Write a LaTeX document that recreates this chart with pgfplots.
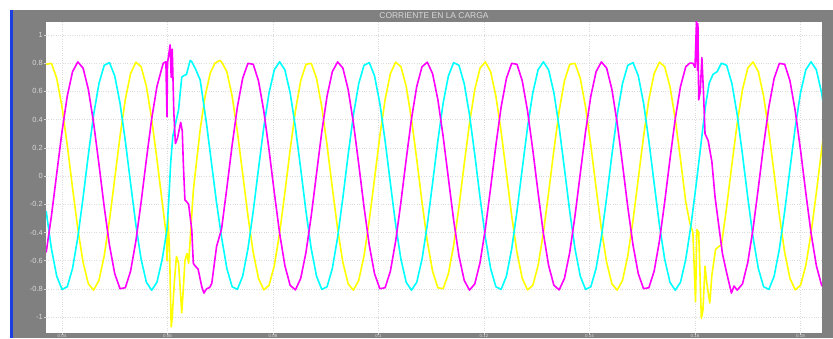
\documentclass[border=0pt]{standalone}
\usepackage{fontspec}
\setmainfont{Liberation Sans}
\usepackage{pgfplots}
\pgfplotsset{compat=1.18}
\definecolor{framegray}{HTML}{808080}
\definecolor{labgray}{HTML}{D8D8D8}
\definecolor{stripblue}{HTML}{1A3FE0}
\definecolor{cyel}{HTML}{FFFF00}
\definecolor{cmag}{HTML}{FF00FF}
\definecolor{ccya}{HTML}{00FFFF}
\begin{document}
\begin{tikzpicture}[x=1bp,y=1bp]
\clip (0,0) rectangle (833,338);
\fill[white] (0,0) rectangle (833,338);
\fill[framegray] (13,0) rectangle (833,328);
\fill[stripblue] (10,0) rectangle (13,328);
\node[text=labgray, font=\fontsize{8.5}{9}\selectfont] at (434,322) {CORRIENTE EN LA CARGA};
\begin{axis}[
  at={(46bp,5bp)}, anchor=south west,
  width=776bp, height=311bp, scale only axis,
  xmin=0.036967, xmax=0.184076, ymin=-1.113, ymax=1.092,
  axis background/.style={fill=white},
  axis line style={draw=none},
  /pgf/number format/assume math mode=true,
  xtick={0.04,0.06,0.08,0.1,0.12,0.14,0.16,0.18},
  xticklabels={0.04,0.06,0.08,0.1,0.12,0.14,0.16,0.18},
  ytick={-1,-0.8,-0.6,-0.4,-0.2,0,0.2,0.4,0.6,0.8,1},
  yticklabels={-1,-0.8,-0.6,-0.4,-0.2,0,0.2,0.4,0.6,0.8,1},
  tick label style={text=labgray, font=\fontsize{7.5}{8}\selectfont},
  yticklabel style={inner sep=1bp},
  xticklabel style={font=\fontsize{4.5}{5}\selectfont, inner sep=0pt, yshift=1.2bp},
  tick align=outside, major tick length=2bp,
  tick style={labgray, line width=0.5bp},
  xtick pos=bottom, ytick pos=left,
  grid=major,
  major grid style={dotted, color=gray!28, line width=0.5bp},
  every axis plot/.append style={line width=1.6bp, line join=round},
]
\addplot[cyel] table {
0.037 0.792
0.038 0.799
0.039 0.693
0.040 0.490
0.041 0.218
0.042 -0.085
0.043 -0.375
0.044 -0.613
0.045 -0.765
0.046 -0.809
0.047 -0.740
0.048 -0.567
0.049 -0.314
0.050 -0.017
0.051 0.282
0.052 0.542
0.053 0.726
0.054 0.807
0.055 0.775
0.056 0.635
0.057 0.405
0.058 0.118
0.059 -0.185
0.0598 -0.43
0.0599 -0.60
0.0601 -0.29
0.0604 -0.55
0.0607 -1.07
0.0609 -1.00
0.0613 -0.75
0.0617 -0.57
0.0621 -0.62
0.0625 -0.85
0.0627 -0.97
0.0630 -0.80
0.0633 -0.60
0.0637 -0.55
0.0640 -0.62
0.0643 -0.45
0.0649 -0.10
0.0655 0.10
0.0662 0.33
0.0671 0.56
0.0681 0.73
0.0690 0.80
0.0699 0.82
0.07025 0.809
0.07125 0.740
0.07225 0.567
0.07325 0.314
0.07425 0.017
0.07525 -0.282
0.07625 -0.542
0.07725 -0.726
0.07825 -0.807
0.07925 -0.775
0.08025 -0.635
0.08125 -0.405
0.08225 -0.118
0.08325 0.185
0.08425 0.462
0.08525 0.675
0.08625 0.792
0.08725 0.799
0.08825 0.693
0.08925 0.490
0.09025 0.218
0.09125 -0.085
0.09225 -0.375
0.09325 -0.613
0.09425 -0.765
0.09525 -0.809
0.09625 -0.740
0.09725 -0.567
0.09825 -0.314
0.09925 -0.017
0.10025 0.282
0.10125 0.542
0.10225 0.726
0.10325 0.807
0.10425 0.775
0.10525 0.635
0.10625 0.405
0.10725 0.118
0.10825 -0.185
0.10925 -0.462
0.11025 -0.675
0.11125 -0.792
0.11225 -0.799
0.11325 -0.693
0.11425 -0.490
0.11525 -0.218
0.11625 0.085
0.11725 0.375
0.11825 0.613
0.11925 0.765
0.12025 0.809
0.12125 0.740
0.12225 0.567
0.12325 0.314
0.12425 0.017
0.12525 -0.282
0.12625 -0.542
0.12725 -0.726
0.12825 -0.807
0.12925 -0.775
0.13025 -0.635
0.13125 -0.405
0.13225 -0.118
0.13325 0.185
0.13425 0.462
0.13525 0.675
0.13625 0.792
0.13725 0.799
0.13825 0.693
0.13925 0.490
0.14025 0.218
0.14125 -0.085
0.14225 -0.375
0.14325 -0.613
0.14425 -0.765
0.14525 -0.809
0.14625 -0.740
0.14725 -0.567
0.14825 -0.314
0.14925 -0.017
0.15025 0.282
0.15125 0.542
0.15225 0.726
0.15325 0.807
0.15425 0.775
0.15525 0.635
0.15625 0.405
0.15725 0.118
0.15825 -0.185
0.1590 -0.33
0.1596 -0.40
0.1601 -0.89
0.16035 -0.38
0.1607 -0.40
0.1612 -1.01
0.1615 -0.95
0.1619 -0.64
0.1622 -0.75
0.1628 -0.90
0.1632 -0.70
0.1639 -0.52
0.1645 -0.50
0.165 -0.490
0.166 -0.218
0.167 0.085
0.168 0.375
0.169 0.613
0.170 0.765
0.171 0.809
0.172 0.740
0.173 0.567
0.174 0.314
0.175 0.017
0.176 -0.282
0.177 -0.542
0.178 -0.726
0.179 -0.807
0.180 -0.775
0.181 -0.635
0.182 -0.405
0.183 -0.118
0.184 0.185
0.185 0.462
};
\addplot[ccya] table {
0.037 -0.250
0.038 -0.516
0.039 -0.710
0.040 -0.804
0.041 -0.785
0.042 -0.655
0.043 -0.434
0.044 -0.152
0.045 0.152
0.046 0.434
0.047 0.655
0.048 0.785
0.049 0.804
0.050 0.710
0.051 0.516
0.052 0.250
0.053 -0.051
0.054 -0.345
0.055 -0.590
0.056 -0.753
0.057 -0.810
0.058 -0.753
0.059 -0.590
0.0599 -0.38
0.0602 -0.20
0.0606 0.09
0.0610 0.28
0.0614 0.35
0.0621 0.47
0.0627 0.70
0.0630 0.71
0.0636 0.72
0.0643 0.82
0.0646 0.81
0.0653 0.76
0.0662 0.68
0.0674 0.37
0.0693 -0.19
0.07025 -0.434
0.07125 -0.655
0.07225 -0.785
0.07325 -0.804
0.07425 -0.710
0.07525 -0.516
0.07625 -0.250
0.07725 0.051
0.07825 0.345
0.07925 0.590
0.08025 0.753
0.08125 0.810
0.08225 0.753
0.08325 0.590
0.08425 0.345
0.08525 0.051
0.08625 -0.250
0.08725 -0.516
0.08825 -0.710
0.08925 -0.804
0.09025 -0.785
0.09125 -0.655
0.09225 -0.434
0.09325 -0.152
0.09425 0.152
0.09525 0.434
0.09625 0.655
0.09725 0.785
0.09825 0.804
0.09925 0.710
0.10025 0.516
0.10125 0.250
0.10225 -0.051
0.10325 -0.345
0.10425 -0.590
0.10525 -0.753
0.10625 -0.810
0.10725 -0.753
0.10825 -0.590
0.10925 -0.345
0.11025 -0.051
0.11125 0.250
0.11225 0.516
0.11325 0.710
0.11425 0.804
0.11525 0.785
0.11625 0.655
0.11725 0.434
0.11825 0.152
0.11925 -0.152
0.12025 -0.434
0.12125 -0.655
0.12225 -0.785
0.12325 -0.804
0.12425 -0.710
0.12525 -0.516
0.12625 -0.250
0.12725 0.051
0.12825 0.345
0.12925 0.590
0.13025 0.753
0.13125 0.810
0.13225 0.753
0.13325 0.590
0.13425 0.345
0.13525 0.051
0.13625 -0.250
0.13725 -0.516
0.13825 -0.710
0.13925 -0.804
0.14025 -0.785
0.14125 -0.655
0.14225 -0.434
0.14325 -0.152
0.14425 0.152
0.14525 0.434
0.14625 0.655
0.14725 0.785
0.14825 0.804
0.14925 0.710
0.15025 0.516
0.15125 0.250
0.15225 -0.051
0.15325 -0.345
0.15425 -0.590
0.15525 -0.753
0.15625 -0.810
0.15725 -0.753
0.15825 -0.590
0.15925 -0.345
0.16025 -0.051
0.1612 0.25
0.1620 0.50
0.1627 0.66
0.1634 0.72
0.1642 0.74
0.1650 0.80
0.166 0.785
0.167 0.655
0.168 0.434
0.169 0.152
0.170 -0.152
0.171 -0.434
0.172 -0.655
0.173 -0.785
0.174 -0.804
0.175 -0.710
0.176 -0.516
0.177 -0.250
0.178 0.051
0.179 0.345
0.180 0.590
0.181 0.753
0.182 0.810
0.183 0.753
0.184 0.590
0.185 0.345
};
\addplot[cmag] table {
0.037 -0.542
0.038 -0.282
0.039 0.017
0.040 0.314
0.041 0.567
0.042 0.740
0.043 0.809
0.044 0.765
0.045 0.613
0.046 0.375
0.047 0.085
0.048 -0.218
0.049 -0.490
0.050 -0.693
0.051 -0.799
0.052 -0.792
0.053 -0.675
0.054 -0.462
0.055 -0.185
0.056 0.118
0.057 0.405
0.058 0.635
0.059 0.775
0.0592 0.80
0.0597 0.81
0.0599 0.42
0.0600 0.80
0.0605 0.93
0.0607 0.70
0.0609 0.90
0.0612 0.45
0.0615 0.23
0.0619 0.27
0.0625 0.38
0.0628 0.32
0.0630 0.09
0.0633 -0.17
0.0636 -0.18
0.0640 -0.20
0.0646 -0.38
0.0649 -0.62
0.0653 -0.64
0.0658 -0.66
0.0665 -0.785
0.0669 -0.83
0.0674 -0.80
0.0680 -0.79
0.0684 -0.76
0.0693 -0.50
0.07025 -0.375
0.07125 -0.085
0.07225 0.218
0.07325 0.490
0.07425 0.693
0.07525 0.799
0.07625 0.792
0.07725 0.675
0.07825 0.462
0.07925 0.185
0.08025 -0.118
0.08125 -0.405
0.08225 -0.635
0.08325 -0.775
0.08425 -0.807
0.08525 -0.726
0.08625 -0.542
0.08725 -0.282
0.08825 0.017
0.08925 0.314
0.09025 0.567
0.09125 0.740
0.09225 0.809
0.09325 0.765
0.09425 0.613
0.09525 0.375
0.09625 0.085
0.09725 -0.218
0.09825 -0.490
0.09925 -0.693
0.10025 -0.799
0.10125 -0.792
0.10225 -0.675
0.10325 -0.462
0.10425 -0.185
0.10525 0.118
0.10625 0.405
0.10725 0.635
0.10825 0.775
0.10925 0.807
0.11025 0.726
0.11125 0.542
0.11225 0.282
0.11325 -0.017
0.11425 -0.314
0.11525 -0.567
0.11625 -0.740
0.11725 -0.809
0.11825 -0.765
0.11925 -0.613
0.12025 -0.375
0.12125 -0.085
0.12225 0.218
0.12325 0.490
0.12425 0.693
0.12525 0.799
0.12625 0.792
0.12725 0.675
0.12825 0.462
0.12925 0.185
0.13025 -0.118
0.13125 -0.405
0.13225 -0.635
0.13325 -0.775
0.13425 -0.807
0.13525 -0.726
0.13625 -0.542
0.13725 -0.282
0.13825 0.017
0.13925 0.314
0.14025 0.567
0.14125 0.740
0.14225 0.809
0.14325 0.765
0.14425 0.613
0.14525 0.375
0.14625 0.085
0.14725 -0.218
0.14825 -0.490
0.14925 -0.693
0.15025 -0.799
0.15125 -0.792
0.15225 -0.675
0.15325 -0.462
0.15425 -0.185
0.15525 0.118
0.15625 0.405
0.15725 0.635
0.15825 0.775
0.1590 0.80
0.1596 0.80
0.1600 0.77
0.1603 1.12
0.16045 0.75
0.16055 1.08
0.1607 0.54
0.1610 0.60
0.1613 0.84
0.1616 0.60
0.1619 0.30
0.1625 0.25
0.1632 0.10
0.1638 -0.15
0.1645 -0.35
0.1652 -0.55
0.1659 -0.67
0.1664 -0.75
0.1669 -0.83
0.1674 -0.78
0.168 -0.809
0.169 -0.765
0.170 -0.613
0.171 -0.375
0.172 -0.085
0.173 0.218
0.174 0.490
0.175 0.693
0.176 0.799
0.177 0.792
0.178 0.675
0.179 0.462
0.180 0.185
0.181 -0.118
0.182 -0.405
0.183 -0.635
0.184 -0.775
0.185 -0.807
};
\end{axis}
\end{tikzpicture}
\end{document}
